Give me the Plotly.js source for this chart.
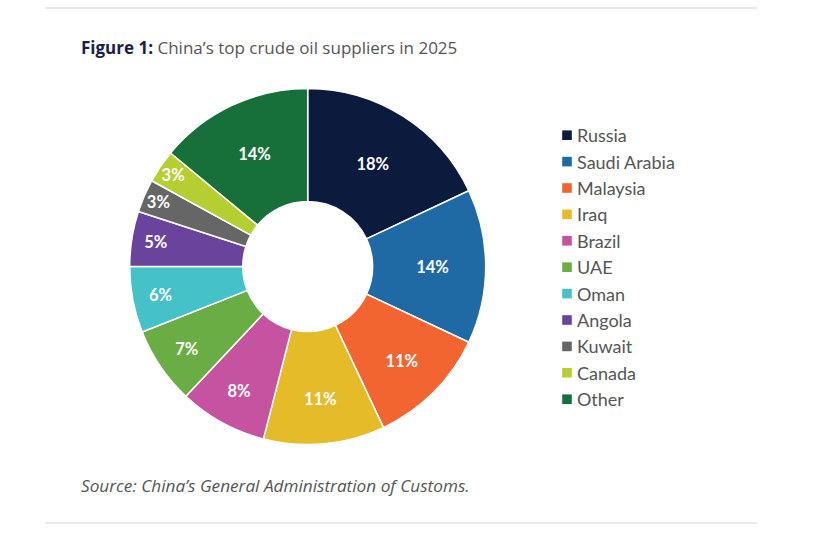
<!DOCTYPE html>
<html>
<head>
<meta charset="utf-8">
<script src="https://cdn.plot.ly/plotly-3.0.1.min.js"></script>
<style>html,body{margin:0;padding:0;background:#fff;}#chart{width:818px;height:533px;}</style>
</head>
<body>
<div id="chart"></div>
<script>
const suppliers = ["Russia","Saudi Arabia","Malaysia","Iraq","Brazil","UAE","Oman","Angola","Kuwait","Canada","Other"];
const shares = [18,14,11,11,8,7,6,5,3,3,14];
const sliceColors = ["#0b1a3d","#1f6aa5","#f26531","#e6bb2a","#c653a0","#6aad45","#45c1c8","#6a449c","#666666","#b5cf33","#17703a"];
const titleBold = "Figure 1:";
const titleRest = "China’s top crude oil suppliers in 2025";
const sourceText = "Source: China’s General Administration of Customs.";

const W = 818, H = 533;
const cx = 307.7, cy = 266.5, R = 178;

const trace = {
  type: "pie",
  labels: suppliers,
  values: shares,
  sort: false,
  direction: "clockwise",
  rotation: 0,
  hole: 0.365,
  marker: {colors: sliceColors, line: {color: "#ffffff", width: 1.5}},
  texttemplate: "%{value}%",
  textposition: "inside",
  insidetextorientation: "horizontal",
  textfont: {family: "Lato, sans-serif", size: 16.5, color: "#ffffff", weight: 700},
  hoverinfo: "label+percent",
  domain: {x: [(cx - R) / W, (cx + R) / W], y: [(H - cy - R) / H, (H - cy + R) / H]}
};

const layout = {
  width: W, height: H,
  margin: {l: 0, r: 0, t: 0, b: 0},
  paper_bgcolor: "#ffffff",
  showlegend: true,
  legend: {
    x: 537 / W, y: 1 - 117 / H, xanchor: "left", yanchor: "top",
    font: {family: "Lato, sans-serif", size: 18, color: "#555555"},
    itemwidth: 30, itemclick: false, tracegroupgap: 0, bgcolor: "rgba(0,0,0,0)"
  },
  annotations: [
    {xref: "paper", yref: "paper", x: 79 / W, y: 1 - 47 / H, xanchor: "left", yanchor: "middle", showarrow: false,
     text: "<b>" + titleBold + "</b> " + titleRest,
     font: {family: "'Open Sans', sans-serif", size: 17, color: "#555555"}},
    {xref: "paper", yref: "paper", x: 79 / W, y: 1 - 485 / H, xanchor: "left", yanchor: "middle", showarrow: false,
     text: "<i>" + sourceText + "</i>",
     font: {family: "'Open Sans', sans-serif", size: 17.2, color: "#555555"}}
  ],
  shapes: [
    {type: "line", xref: "paper", yref: "paper", x0: 45 / W, x1: 757 / W, y0: 1 - 8 / H, y1: 1 - 8 / H, line: {color: "#d6d6d6", width: 1}},
    {type: "line", xref: "paper", yref: "paper", x0: 45 / W, x1: 757 / W, y0: 1 - 523 / H, y1: 1 - 523 / H, line: {color: "#d6d6d6", width: 1}}
  ]
};

Plotly.newPlot("chart", [trace], layout, {displayModeBar: false, staticPlot: true}).then(function () {
  document.querySelectorAll('.annotation-text tspan[style*="font-weight:bold"]').forEach(function (t) { t.style.fill = "#1a1f4a"; });
  document.querySelectorAll('.legendpoints path').forEach(function (p) {
    const tr = p.getAttribute('transform') || '';
    p.setAttribute('transform', tr + ' translate(10,0) scale(0.8)');
    p.style.strokeWidth = '0';
  });
});
</script>
</body>
</html>
